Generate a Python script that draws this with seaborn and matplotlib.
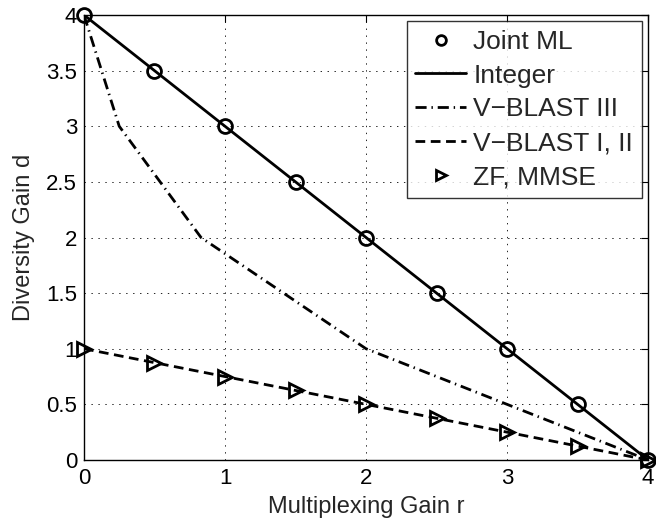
import numpy as np
import pandas as pd
import seaborn as sns
import matplotlib
matplotlib.use("Agg")
import matplotlib.pyplot as plt

# diversity-multiplexing tradeoff, 4x4 system
r_ml = [0, 0.5, 1, 1.5, 2, 2.5, 3, 3.5, 4]
d_ml = [4, 3.5, 3, 2.5, 2, 1.5, 1, 0.5, 0]

r_int = [0, 4]
d_int = [4, 0]

r_vb3 = [0, 0.25, 0.83, 2, 4]
d_vb3 = [4, 3, 2, 1, 0]

r_vb12 = [0, 4]
d_vb12 = [1, 0]

r_zf = [0, 0.5, 1, 1.5, 2, 2.5, 3, 3.5, 4]
d_zf = [1, 0.875, 0.75, 0.625, 0.5, 0.375, 0.25, 0.125, 0]

sns.set_style("white")
plt.rcParams["font.family"] = ["Liberation Sans", "DejaVu Sans"]
plt.rcParams["lines.scale_dashes"] = False

fig = plt.figure(figsize=(6.56, 5.18), dpi=100)
ax = fig.add_axes([0.128, 0.112, 0.86, 0.859])

mk = dict(color="k", markerfacecolor="none", markeredgecolor="k",
          markersize=10, markeredgewidth=2, linestyle="none", clip_on=False)

sns.lineplot(x=r_ml, y=d_ml, marker="o", label="Joint ML", ax=ax, **mk)
sns.lineplot(x=r_int, y=d_int, color="k", lw=2, label="Integer", ax=ax)
sns.lineplot(x=r_vb3, y=d_vb3, color="k", lw=2, dashes=False, ax=ax,
             label="V\u2212BLAST III").lines[-1].set_dashes((8, 3.5, 1, 3.5))
sns.lineplot(x=r_vb12, y=d_vb12, color="k", lw=2, dashes=False, ax=ax,
             label="V\u2212BLAST I, II").lines[-1].set_dashes((7, 4))
sns.lineplot(x=r_zf, y=d_zf, marker=">", label="ZF, MMSE", ax=ax, **mk)

ax.set_xlim(0, 4)
ax.set_ylim(0, 4)
ax.set_xticks([0, 1, 2, 3, 4])
ax.set_yticks(np.arange(0, 4.01, 0.5))
ax.set_yticklabels(["0", "0.5", "1", "1.5", "2", "2.5", "3", "3.5", "4"])
ax.tick_params(direction="in", length=5, width=0.8, labelsize=16,
               top=True, right=True, colors="k")
ax.tick_params(axis="x", pad=6)
ax.tick_params(axis="y", pad=5)
ax.grid(True, color="k", linestyle=(0, (1, 4)), lw=0.6)
for s in ax.spines.values():
    s.set_color("k")
    s.set_linewidth(1)

ax.set_xlabel("Multiplexing Gain r", fontsize=17, labelpad=5)
ax.set_ylabel("Diversity Gain d", fontsize=17, labelpad=8)

leg = ax.legend(loc="upper right", fontsize=19, frameon=True, fancybox=False,
                handlelength=1.93, borderpad=0.33, labelspacing=0.37,
                handletextpad=0.27, borderaxespad=0,
                bbox_to_anchor=(0.989, 0.986))
leg.get_frame().set_edgecolor("k")
leg.get_frame().set_linewidth(1)
for h in leg.legend_handles:
    if h.get_marker() not in ("None", None, ""):
        h.set_markersize(7)

fig.savefig("out.png", dpi=100)
